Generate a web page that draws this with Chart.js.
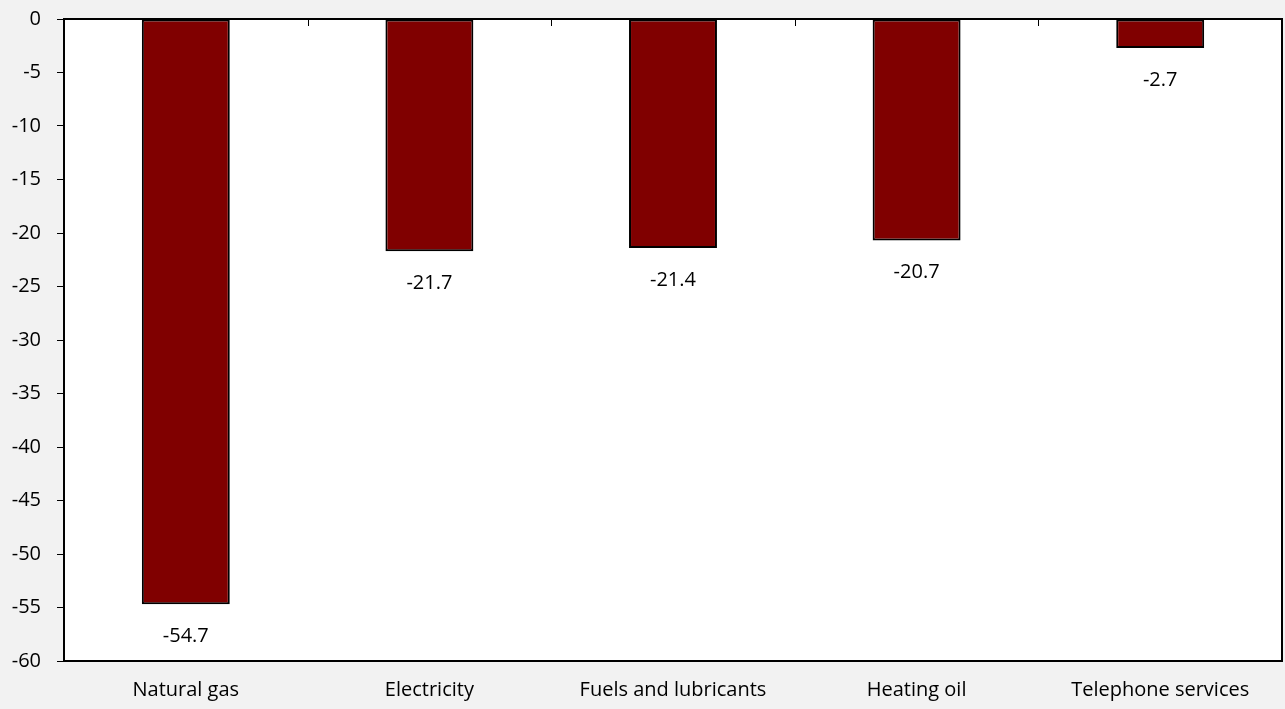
<!DOCTYPE html>
<html>
<head>
<meta charset="utf-8">
<script src="https://cdn.jsdelivr.net/npm/chart.js@4"></script>
<style>
  html, body { margin: 0; padding: 0; background: #f2f2f2; }
  #wrap { width: 1285px; height: 709px; }
</style>
</head>
<body>
<div id="wrap"><canvas id="barChart" width="1285" height="709"></canvas></div>
<script>
// values
const categories = ["Natural gas", "Electricity", "Fuels and lubricants", "Heating oil", "Telephone services"];
const changes = [-54.7, -21.7, -21.4, -20.7, -2.7];
const yTicks = [0, -5, -10, -15, -20, -25, -30, -35, -40, -45, -50, -55, -60];

const fontFamily = "'Open Sans', 'DejaVu Sans', sans-serif";

// white plot area with black frame, plus small ticks at category borders on top
const plotFrame = {
    id: 'plotFrame',
    beforeDatasetsDraw(chart) {
        const a = chart.chartArea;
        const ctx = chart.ctx;
        ctx.save();
        ctx.fillStyle = '#ffffff';
        ctx.fillRect(a.left, a.top, a.right - a.left, a.bottom - a.top);
        ctx.restore();
    },
    afterDatasetsDraw(chart) {
        const a = chart.chartArea;
        const ctx = chart.ctx;
        const x = chart.scales.x;
        ctx.save();
        ctx.strokeStyle = '#000';
        ctx.lineWidth = 2;
        ctx.strokeRect(a.left, a.top, a.right - a.left, a.bottom - a.top);
        ctx.lineWidth = 1;
        const half = (x.getPixelForValue(1) - x.getPixelForValue(0)) / 2;
        for (let i = 0; i < categories.length - 1; i++) {
            const px = Math.round(x.getPixelForValue(i) + half) + 0.5;
            ctx.beginPath();
            ctx.moveTo(px, a.top);
            ctx.lineTo(px, a.top + 7);
            ctx.stroke();
        }
        ctx.restore();
    }
};

// value labels under each bar
const barLabels = {
    id: 'barLabels',
    afterDatasetsDraw(chart) {
        const ctx = chart.ctx;
        const meta = chart.getDatasetMeta(0);
        ctx.save();
        ctx.font = '20px ' + fontFamily;
        ctx.fillStyle = '#000';
        ctx.textAlign = 'center';
        ctx.textBaseline = 'middle';
        meta.data.forEach(function (bar, i) {
            ctx.fillText(changes[i].toFixed(1), bar.x, bar.y + 32);
        });
        ctx.restore();
    }
};

new Chart(document.getElementById('barChart'), {
    type: 'bar',
    data: {
        labels: categories,
        datasets: [{
            data: changes,
            backgroundColor: '#800000',
            borderColor: '#000000',
            borderWidth: 2,
            borderSkipped: false,
            barPercentage: 0.361,
            categoryPercentage: 1
        }]
    },
    options: {
        responsive: false,
        animation: false,
        devicePixelRatio: 1,
        layout: { padding: { top: 19, right: 3, left: 0, bottom: 0 } },
        plugins: {
            legend: { display: false },
            tooltip: { enabled: false }
        },
        scales: {
            x: {
                position: 'bottom',
                grid: { display: false, drawTicks: false },
                border: { display: false },
                ticks: {
                    color: '#000',
                    padding: 17,
                    maxRotation: 0,
                    font: { family: fontFamily, size: 20 }
                },
                afterFit(scale) { scale.height = 48; }
            },
            y: {
                min: -60,
                max: 0,
                afterBuildTicks(scale) {
                    scale.ticks = yTicks.map(v => ({ value: v }));
                },
                grid: {
                    drawOnChartArea: false,
                    tickLength: 7,
                    color: '#000'
                },
                border: { display: true, color: '#000', width: 2 },
                ticks: {
                    color: '#000',
                    padding: 16,
                    font: { family: fontFamily, size: 20, lineHeight: 0.3 }
                },
                afterFit(scale) { scale.width = 64; }
            }
        }
    },
    plugins: [plotFrame, barLabels]
});
</script>
</body>
</html>
